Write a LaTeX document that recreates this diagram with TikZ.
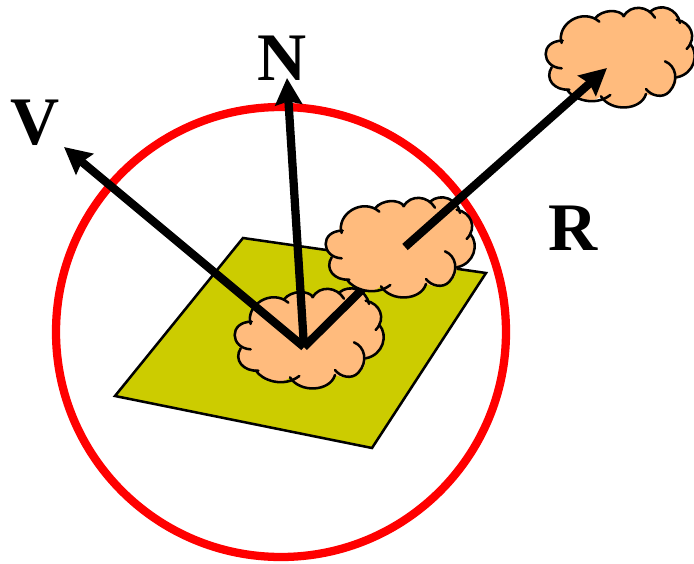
\documentclass[tikz,border=0pt]{standalone}
\usepackage{fontspec}
\setmainfont{Liberation Serif}
\usetikzlibrary{arrows.meta}
\definecolor{plane}{HTML}{CCCC00}
\definecolor{cloudfill}{HTML}{FFBB7D}
\definecolor{ringred}{HTML}{FF0000}
\tikzset{
  ray/.style={line width=6.2pt,draw=black},
  rayhead/.style={ray,-{Stealth[length=20pt,width=20pt,inset=2.5pt]}},
  letter/.style={font=\fontsize{51}{51}\selectfont\bfseries,inner sep=0pt,anchor=base},
  pics/cloudshape/.style={code={
    \fill[cloudfill] (85,430) .. controls (80,375) and (150,330) .. (192,358)
      .. controls (215,330) and (265,330) .. (280,350)
      .. controls (300,315) and (345,320) .. (357,338)
      .. controls (390,310) and (440,330) .. (440,365)
      .. controls (480,375) and (495,410) .. (478,435)
      .. controls (505,465) and (490,525) .. (437,535)
      .. controls (440,575) and (395,605) .. (345,585)
      .. controls (330,635) and (240,640) .. (210,592)
      .. controls (175,620) and (125,600) .. (108,572)
      .. controls (70,570) and (40,540) .. (62,505)
      .. controls (35,485) and (35,430) .. (85,430) -- cycle;
    \begin{scope}[line width=1.9pt,line cap=round]
    \draw (92,432) .. controls (75,375) and (155,325) .. (205,368);
    \draw (192,358) .. controls (215,330) and (265,330) .. (280,352);
    \draw (277,352) .. controls (300,315) and (350,320) .. (372,356);
    \draw (357,338) .. controls (390,310) and (440,330) .. (447,372);
    \draw (437,362) .. controls (480,370) and (500,415) .. (467,450);
    \draw (478,435) .. controls (505,465) and (490,525) .. (437,535);
    \draw (402,487) .. controls (435,500) and (445,545) .. (415,578)
      .. controls (395,600) and (360,590) .. (345,570);
    \draw (345,585) .. controls (330,635) and (240,640) .. (210,592);
    \draw (238,588) .. controls (190,625) and (125,600) .. (108,572);
    \draw (115,572) .. controls (70,575) and (40,540) .. (62,505);
    \draw (92,508) .. controls (30,505) and (25,425) .. (95,425);
    \end{scope}
  }}
}
\begin{document}
\begin{tikzpicture}[x=0.75pt,y=-0.75pt]
\useasboundingbox (0,0) rectangle (694,564);
\coordinate (origin) at (304,347);
\coordinate (vtip) at (64,147);
\coordinate (ntip) at (287,78);
\coordinate (rstart) at (405,247);
\coordinate (rtip) at (607,68);
\coordinate (rhidden) at (400,252);
\coordinate (ringc) at (281,332);
\coordinate (cloudA) at (220,180);
\coordinate (cloudB) at (311,89);
\coordinate (cloudC) at (531,-101);
\draw[line width=1.9pt,fill=plane,line join=miter] (243,238) -- (486,273) -- (372,448) -- (115,396) -- cycle;
\draw[ringred,line width=6.2pt] (ringc) circle[radius=225];
\pic[x=0.25pt,y=-0.25pt] at (cloudA) {cloudshape};
\draw[ray,line join=miter] (rhidden) -- (origin);
\pic[x=0.25pt,y=-0.25pt] at (cloudB) {cloudshape};
\pic[x=0.25pt,y=-0.25pt] at (cloudC) {cloudshape};
\draw[rayhead] (origin) -- (vtip);
\draw[rayhead] (origin) -- (ntip);
\draw[rayhead] (rstart) -- (rtip);
\node[letter] (v) at (35,144) {V};
\node[letter] (n) at (282,80) {N};
\node[letter] (r) at (573,250) {R};
\end{tikzpicture}
\end{document}
